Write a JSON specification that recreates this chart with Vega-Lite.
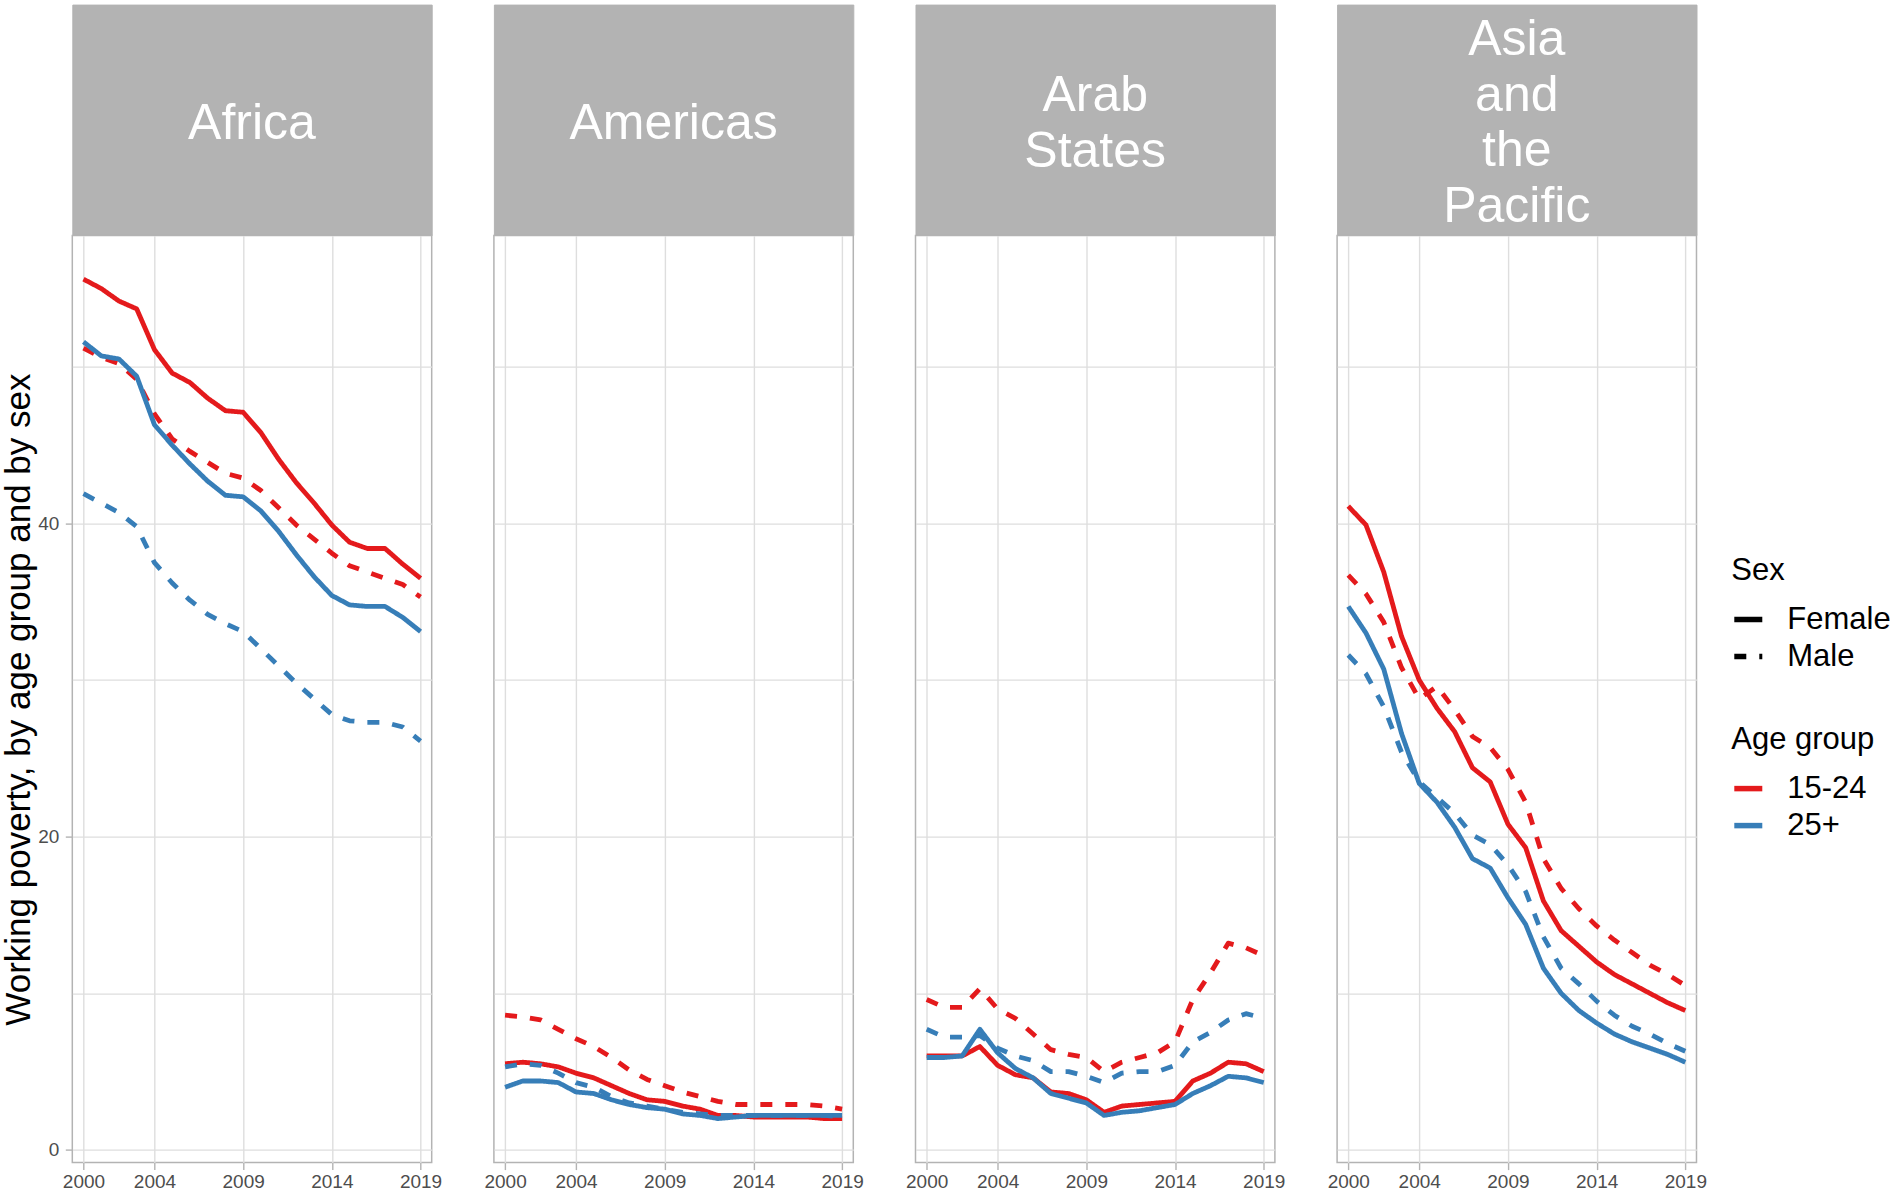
{
  "$schema": "https://vega.github.io/schema/vega-lite/v6.json",
  "background": "white",
  "padding": {"left": 0.3, "top": 3.6, "right": 0, "bottom": 0},
  "datasets": {
    "poverty": [
      {"region":"Africa","age":"15-24","sex":"Female","year":2000,"value":55.6},{"region":"Africa","age":"15-24","sex":"Female","year":2001,"value":55.0},{"region":"Africa","age":"15-24","sex":"Female","year":2002,"value":54.2},{"region":"Africa","age":"15-24","sex":"Female","year":2003,"value":53.7},{"region":"Africa","age":"15-24","sex":"Female","year":2004,"value":51.1},{"region":"Africa","age":"15-24","sex":"Female","year":2005,"value":49.6},{"region":"Africa","age":"15-24","sex":"Female","year":2006,"value":49.0},{"region":"Africa","age":"15-24","sex":"Female","year":2007,"value":48.0},{"region":"Africa","age":"15-24","sex":"Female","year":2008,"value":47.2},{"region":"Africa","age":"15-24","sex":"Female","year":2009,"value":47.1},{"region":"Africa","age":"15-24","sex":"Female","year":2010,"value":45.8},{"region":"Africa","age":"15-24","sex":"Female","year":2011,"value":44.1},{"region":"Africa","age":"15-24","sex":"Female","year":2012,"value":42.6},{"region":"Africa","age":"15-24","sex":"Female","year":2013,"value":41.3},{"region":"Africa","age":"15-24","sex":"Female","year":2014,"value":39.9},{"region":"Africa","age":"15-24","sex":"Female","year":2015,"value":38.8},{"region":"Africa","age":"15-24","sex":"Female","year":2016,"value":38.4},{"region":"Africa","age":"15-24","sex":"Female","year":2017,"value":38.4},{"region":"Africa","age":"15-24","sex":"Female","year":2018,"value":37.4},{"region":"Africa","age":"15-24","sex":"Female","year":2019,"value":36.5},
      {"region":"Africa","age":"15-24","sex":"Male","year":2000,"value":51.2},{"region":"Africa","age":"15-24","sex":"Male","year":2001,"value":50.6},{"region":"Africa","age":"15-24","sex":"Male","year":2002,"value":50.2},{"region":"Africa","age":"15-24","sex":"Male","year":2003,"value":49.2},{"region":"Africa","age":"15-24","sex":"Male","year":2004,"value":47.0},{"region":"Africa","age":"15-24","sex":"Male","year":2005,"value":45.4},{"region":"Africa","age":"15-24","sex":"Male","year":2006,"value":44.6},{"region":"Africa","age":"15-24","sex":"Male","year":2007,"value":43.9},{"region":"Africa","age":"15-24","sex":"Male","year":2008,"value":43.2},{"region":"Africa","age":"15-24","sex":"Male","year":2009,"value":42.9},{"region":"Africa","age":"15-24","sex":"Male","year":2010,"value":42.1},{"region":"Africa","age":"15-24","sex":"Male","year":2011,"value":41.0},{"region":"Africa","age":"15-24","sex":"Male","year":2012,"value":39.9},{"region":"Africa","age":"15-24","sex":"Male","year":2013,"value":39.0},{"region":"Africa","age":"15-24","sex":"Male","year":2014,"value":38.1},{"region":"Africa","age":"15-24","sex":"Male","year":2015,"value":37.3},{"region":"Africa","age":"15-24","sex":"Male","year":2016,"value":36.9},{"region":"Africa","age":"15-24","sex":"Male","year":2017,"value":36.5},{"region":"Africa","age":"15-24","sex":"Male","year":2018,"value":36.1},{"region":"Africa","age":"15-24","sex":"Male","year":2019,"value":35.3},
      {"region":"Africa","age":"25+","sex":"Female","year":2000,"value":51.6},{"region":"Africa","age":"25+","sex":"Female","year":2001,"value":50.7},{"region":"Africa","age":"25+","sex":"Female","year":2002,"value":50.5},{"region":"Africa","age":"25+","sex":"Female","year":2003,"value":49.4},{"region":"Africa","age":"25+","sex":"Female","year":2004,"value":46.3},{"region":"Africa","age":"25+","sex":"Female","year":2005,"value":45.0},{"region":"Africa","age":"25+","sex":"Female","year":2006,"value":43.8},{"region":"Africa","age":"25+","sex":"Female","year":2007,"value":42.7},{"region":"Africa","age":"25+","sex":"Female","year":2008,"value":41.8},{"region":"Africa","age":"25+","sex":"Female","year":2009,"value":41.7},{"region":"Africa","age":"25+","sex":"Female","year":2010,"value":40.8},{"region":"Africa","age":"25+","sex":"Female","year":2011,"value":39.5},{"region":"Africa","age":"25+","sex":"Female","year":2012,"value":38.0},{"region":"Africa","age":"25+","sex":"Female","year":2013,"value":36.6},{"region":"Africa","age":"25+","sex":"Female","year":2014,"value":35.4},{"region":"Africa","age":"25+","sex":"Female","year":2015,"value":34.8},{"region":"Africa","age":"25+","sex":"Female","year":2016,"value":34.7},{"region":"Africa","age":"25+","sex":"Female","year":2017,"value":34.7},{"region":"Africa","age":"25+","sex":"Female","year":2018,"value":34.0},{"region":"Africa","age":"25+","sex":"Female","year":2019,"value":33.1},
      {"region":"Africa","age":"25+","sex":"Male","year":2000,"value":41.9},{"region":"Africa","age":"25+","sex":"Male","year":2001,"value":41.3},{"region":"Africa","age":"25+","sex":"Male","year":2002,"value":40.7},{"region":"Africa","age":"25+","sex":"Male","year":2003,"value":39.8},{"region":"Africa","age":"25+","sex":"Male","year":2004,"value":37.5},{"region":"Africa","age":"25+","sex":"Male","year":2005,"value":36.2},{"region":"Africa","age":"25+","sex":"Male","year":2006,"value":35.1},{"region":"Africa","age":"25+","sex":"Male","year":2007,"value":34.2},{"region":"Africa","age":"25+","sex":"Male","year":2008,"value":33.6},{"region":"Africa","age":"25+","sex":"Male","year":2009,"value":33.1},{"region":"Africa","age":"25+","sex":"Male","year":2010,"value":32.0},{"region":"Africa","age":"25+","sex":"Male","year":2011,"value":30.9},{"region":"Africa","age":"25+","sex":"Male","year":2012,"value":29.8},{"region":"Africa","age":"25+","sex":"Male","year":2013,"value":28.8},{"region":"Africa","age":"25+","sex":"Male","year":2014,"value":27.8},{"region":"Africa","age":"25+","sex":"Male","year":2015,"value":27.4},{"region":"Africa","age":"25+","sex":"Male","year":2016,"value":27.3},{"region":"Africa","age":"25+","sex":"Male","year":2017,"value":27.3},{"region":"Africa","age":"25+","sex":"Male","year":2018,"value":27.0},{"region":"Africa","age":"25+","sex":"Male","year":2019,"value":26.1},
      {"region":"Americas","age":"15-24","sex":"Female","year":2000,"value":5.5},{"region":"Americas","age":"15-24","sex":"Female","year":2001,"value":5.6},{"region":"Americas","age":"15-24","sex":"Female","year":2002,"value":5.5},{"region":"Americas","age":"15-24","sex":"Female","year":2003,"value":5.3},{"region":"Americas","age":"15-24","sex":"Female","year":2004,"value":4.9},{"region":"Americas","age":"15-24","sex":"Female","year":2005,"value":4.6},{"region":"Americas","age":"15-24","sex":"Female","year":2006,"value":4.1},{"region":"Americas","age":"15-24","sex":"Female","year":2007,"value":3.6},{"region":"Americas","age":"15-24","sex":"Female","year":2008,"value":3.2},{"region":"Americas","age":"15-24","sex":"Female","year":2009,"value":3.1},{"region":"Americas","age":"15-24","sex":"Female","year":2010,"value":2.8},{"region":"Americas","age":"15-24","sex":"Female","year":2011,"value":2.6},{"region":"Americas","age":"15-24","sex":"Female","year":2012,"value":2.2},{"region":"Americas","age":"15-24","sex":"Female","year":2013,"value":2.2},{"region":"Americas","age":"15-24","sex":"Female","year":2014,"value":2.1},{"region":"Americas","age":"15-24","sex":"Female","year":2015,"value":2.1},{"region":"Americas","age":"15-24","sex":"Female","year":2016,"value":2.1},{"region":"Americas","age":"15-24","sex":"Female","year":2017,"value":2.1},{"region":"Americas","age":"15-24","sex":"Female","year":2018,"value":2.0},{"region":"Americas","age":"15-24","sex":"Female","year":2019,"value":2.0},
      {"region":"Americas","age":"15-24","sex":"Male","year":2000,"value":8.6},{"region":"Americas","age":"15-24","sex":"Male","year":2001,"value":8.5},{"region":"Americas","age":"15-24","sex":"Male","year":2002,"value":8.3},{"region":"Americas","age":"15-24","sex":"Male","year":2003,"value":7.7},{"region":"Americas","age":"15-24","sex":"Male","year":2004,"value":7.1},{"region":"Americas","age":"15-24","sex":"Male","year":2005,"value":6.6},{"region":"Americas","age":"15-24","sex":"Male","year":2006,"value":5.9},{"region":"Americas","age":"15-24","sex":"Male","year":2007,"value":5.1},{"region":"Americas","age":"15-24","sex":"Male","year":2008,"value":4.5},{"region":"Americas","age":"15-24","sex":"Male","year":2009,"value":4.1},{"region":"Americas","age":"15-24","sex":"Male","year":2010,"value":3.7},{"region":"Americas","age":"15-24","sex":"Male","year":2011,"value":3.4},{"region":"Americas","age":"15-24","sex":"Male","year":2012,"value":3.1},{"region":"Americas","age":"15-24","sex":"Male","year":2013,"value":2.9},{"region":"Americas","age":"15-24","sex":"Male","year":2014,"value":2.9},{"region":"Americas","age":"15-24","sex":"Male","year":2015,"value":2.9},{"region":"Americas","age":"15-24","sex":"Male","year":2016,"value":2.9},{"region":"Americas","age":"15-24","sex":"Male","year":2017,"value":2.9},{"region":"Americas","age":"15-24","sex":"Male","year":2018,"value":2.8},{"region":"Americas","age":"15-24","sex":"Male","year":2019,"value":2.6},
      {"region":"Americas","age":"25+","sex":"Female","year":2000,"value":4.0},{"region":"Americas","age":"25+","sex":"Female","year":2001,"value":4.4},{"region":"Americas","age":"25+","sex":"Female","year":2002,"value":4.4},{"region":"Americas","age":"25+","sex":"Female","year":2003,"value":4.3},{"region":"Americas","age":"25+","sex":"Female","year":2004,"value":3.7},{"region":"Americas","age":"25+","sex":"Female","year":2005,"value":3.6},{"region":"Americas","age":"25+","sex":"Female","year":2006,"value":3.2},{"region":"Americas","age":"25+","sex":"Female","year":2007,"value":2.9},{"region":"Americas","age":"25+","sex":"Female","year":2008,"value":2.7},{"region":"Americas","age":"25+","sex":"Female","year":2009,"value":2.6},{"region":"Americas","age":"25+","sex":"Female","year":2010,"value":2.3},{"region":"Americas","age":"25+","sex":"Female","year":2011,"value":2.2},{"region":"Americas","age":"25+","sex":"Female","year":2012,"value":2.0},{"region":"Americas","age":"25+","sex":"Female","year":2013,"value":2.1},{"region":"Americas","age":"25+","sex":"Female","year":2014,"value":2.2},{"region":"Americas","age":"25+","sex":"Female","year":2015,"value":2.2},{"region":"Americas","age":"25+","sex":"Female","year":2016,"value":2.2},{"region":"Americas","age":"25+","sex":"Female","year":2017,"value":2.2},{"region":"Americas","age":"25+","sex":"Female","year":2018,"value":2.2},{"region":"Americas","age":"25+","sex":"Female","year":2019,"value":2.2},
      {"region":"Americas","age":"25+","sex":"Male","year":2000,"value":5.3},{"region":"Americas","age":"25+","sex":"Male","year":2001,"value":5.5},{"region":"Americas","age":"25+","sex":"Male","year":2002,"value":5.4},{"region":"Americas","age":"25+","sex":"Male","year":2003,"value":4.9},{"region":"Americas","age":"25+","sex":"Male","year":2004,"value":4.3},{"region":"Americas","age":"25+","sex":"Male","year":2005,"value":4.0},{"region":"Americas","age":"25+","sex":"Male","year":2006,"value":3.4},{"region":"Americas","age":"25+","sex":"Male","year":2007,"value":3.0},{"region":"Americas","age":"25+","sex":"Male","year":2008,"value":2.8},{"region":"Americas","age":"25+","sex":"Male","year":2009,"value":2.6},{"region":"Americas","age":"25+","sex":"Male","year":2010,"value":2.4},{"region":"Americas","age":"25+","sex":"Male","year":2011,"value":2.3},{"region":"Americas","age":"25+","sex":"Male","year":2012,"value":2.2},{"region":"Americas","age":"25+","sex":"Male","year":2013,"value":2.2},{"region":"Americas","age":"25+","sex":"Male","year":2014,"value":2.2},{"region":"Americas","age":"25+","sex":"Male","year":2015,"value":2.2},{"region":"Americas","age":"25+","sex":"Male","year":2016,"value":2.2},{"region":"Americas","age":"25+","sex":"Male","year":2017,"value":2.2},{"region":"Americas","age":"25+","sex":"Male","year":2018,"value":2.2},{"region":"Americas","age":"25+","sex":"Male","year":2019,"value":2.1},
      {"region":"Arab States","age":"15-24","sex":"Female","year":2000,"value":6.0},{"region":"Arab States","age":"15-24","sex":"Female","year":2001,"value":6.0},{"region":"Arab States","age":"15-24","sex":"Female","year":2002,"value":6.0},{"region":"Arab States","age":"15-24","sex":"Female","year":2003,"value":6.6},{"region":"Arab States","age":"15-24","sex":"Female","year":2004,"value":5.4},{"region":"Arab States","age":"15-24","sex":"Female","year":2005,"value":4.8},{"region":"Arab States","age":"15-24","sex":"Female","year":2006,"value":4.6},{"region":"Arab States","age":"15-24","sex":"Female","year":2007,"value":3.7},{"region":"Arab States","age":"15-24","sex":"Female","year":2008,"value":3.6},{"region":"Arab States","age":"15-24","sex":"Female","year":2009,"value":3.2},{"region":"Arab States","age":"15-24","sex":"Female","year":2010,"value":2.4},{"region":"Arab States","age":"15-24","sex":"Female","year":2011,"value":2.8},{"region":"Arab States","age":"15-24","sex":"Female","year":2012,"value":2.9},{"region":"Arab States","age":"15-24","sex":"Female","year":2013,"value":3.0},{"region":"Arab States","age":"15-24","sex":"Female","year":2014,"value":3.1},{"region":"Arab States","age":"15-24","sex":"Female","year":2015,"value":4.4},{"region":"Arab States","age":"15-24","sex":"Female","year":2016,"value":4.9},{"region":"Arab States","age":"15-24","sex":"Female","year":2017,"value":5.6},{"region":"Arab States","age":"15-24","sex":"Female","year":2018,"value":5.5},{"region":"Arab States","age":"15-24","sex":"Female","year":2019,"value":5.0},
      {"region":"Arab States","age":"15-24","sex":"Male","year":2000,"value":9.6},{"region":"Arab States","age":"15-24","sex":"Male","year":2001,"value":9.1},{"region":"Arab States","age":"15-24","sex":"Male","year":2002,"value":9.1},{"region":"Arab States","age":"15-24","sex":"Male","year":2003,"value":10.3},{"region":"Arab States","age":"15-24","sex":"Male","year":2004,"value":9.0},{"region":"Arab States","age":"15-24","sex":"Male","year":2005,"value":8.4},{"region":"Arab States","age":"15-24","sex":"Male","year":2006,"value":7.4},{"region":"Arab States","age":"15-24","sex":"Male","year":2007,"value":6.4},{"region":"Arab States","age":"15-24","sex":"Male","year":2008,"value":6.1},{"region":"Arab States","age":"15-24","sex":"Male","year":2009,"value":5.9},{"region":"Arab States","age":"15-24","sex":"Male","year":2010,"value":5.0},{"region":"Arab States","age":"15-24","sex":"Male","year":2011,"value":5.6},{"region":"Arab States","age":"15-24","sex":"Male","year":2012,"value":5.9},{"region":"Arab States","age":"15-24","sex":"Male","year":2013,"value":6.2},{"region":"Arab States","age":"15-24","sex":"Male","year":2014,"value":6.9},{"region":"Arab States","age":"15-24","sex":"Male","year":2015,"value":9.6},{"region":"Arab States","age":"15-24","sex":"Male","year":2016,"value":11.3},{"region":"Arab States","age":"15-24","sex":"Male","year":2017,"value":13.2},{"region":"Arab States","age":"15-24","sex":"Male","year":2018,"value":12.9},{"region":"Arab States","age":"15-24","sex":"Male","year":2019,"value":12.4},
      {"region":"Arab States","age":"25+","sex":"Female","year":2000,"value":5.9},{"region":"Arab States","age":"25+","sex":"Female","year":2001,"value":5.9},{"region":"Arab States","age":"25+","sex":"Female","year":2002,"value":6.0},{"region":"Arab States","age":"25+","sex":"Female","year":2003,"value":7.7},{"region":"Arab States","age":"25+","sex":"Female","year":2004,"value":6.2},{"region":"Arab States","age":"25+","sex":"Female","year":2005,"value":5.2},{"region":"Arab States","age":"25+","sex":"Female","year":2006,"value":4.6},{"region":"Arab States","age":"25+","sex":"Female","year":2007,"value":3.6},{"region":"Arab States","age":"25+","sex":"Female","year":2008,"value":3.3},{"region":"Arab States","age":"25+","sex":"Female","year":2009,"value":3.0},{"region":"Arab States","age":"25+","sex":"Female","year":2010,"value":2.2},{"region":"Arab States","age":"25+","sex":"Female","year":2011,"value":2.4},{"region":"Arab States","age":"25+","sex":"Female","year":2012,"value":2.5},{"region":"Arab States","age":"25+","sex":"Female","year":2013,"value":2.7},{"region":"Arab States","age":"25+","sex":"Female","year":2014,"value":2.9},{"region":"Arab States","age":"25+","sex":"Female","year":2015,"value":3.6},{"region":"Arab States","age":"25+","sex":"Female","year":2016,"value":4.1},{"region":"Arab States","age":"25+","sex":"Female","year":2017,"value":4.7},{"region":"Arab States","age":"25+","sex":"Female","year":2018,"value":4.6},{"region":"Arab States","age":"25+","sex":"Female","year":2019,"value":4.3},
      {"region":"Arab States","age":"25+","sex":"Male","year":2000,"value":7.7},{"region":"Arab States","age":"25+","sex":"Male","year":2001,"value":7.2},{"region":"Arab States","age":"25+","sex":"Male","year":2002,"value":7.2},{"region":"Arab States","age":"25+","sex":"Male","year":2003,"value":7.3},{"region":"Arab States","age":"25+","sex":"Male","year":2004,"value":6.5},{"region":"Arab States","age":"25+","sex":"Male","year":2005,"value":6.0},{"region":"Arab States","age":"25+","sex":"Male","year":2006,"value":5.7},{"region":"Arab States","age":"25+","sex":"Male","year":2007,"value":5.0},{"region":"Arab States","age":"25+","sex":"Male","year":2008,"value":5.0},{"region":"Arab States","age":"25+","sex":"Male","year":2009,"value":4.7},{"region":"Arab States","age":"25+","sex":"Male","year":2010,"value":4.3},{"region":"Arab States","age":"25+","sex":"Male","year":2011,"value":4.9},{"region":"Arab States","age":"25+","sex":"Male","year":2012,"value":5.0},{"region":"Arab States","age":"25+","sex":"Male","year":2013,"value":5.0},{"region":"Arab States","age":"25+","sex":"Male","year":2014,"value":5.4},{"region":"Arab States","age":"25+","sex":"Male","year":2015,"value":6.9},{"region":"Arab States","age":"25+","sex":"Male","year":2016,"value":7.5},{"region":"Arab States","age":"25+","sex":"Male","year":2017,"value":8.3},{"region":"Arab States","age":"25+","sex":"Male","year":2018,"value":8.7},{"region":"Arab States","age":"25+","sex":"Male","year":2019,"value":8.4},
      {"region":"Asia and the Pacific","age":"15-24","sex":"Female","year":2000,"value":41.1},{"region":"Asia and the Pacific","age":"15-24","sex":"Female","year":2001,"value":39.9},{"region":"Asia and the Pacific","age":"15-24","sex":"Female","year":2002,"value":36.9},{"region":"Asia and the Pacific","age":"15-24","sex":"Female","year":2003,"value":32.8},{"region":"Asia and the Pacific","age":"15-24","sex":"Female","year":2004,"value":30.0},{"region":"Asia and the Pacific","age":"15-24","sex":"Female","year":2005,"value":28.2},{"region":"Asia and the Pacific","age":"15-24","sex":"Female","year":2006,"value":26.7},{"region":"Asia and the Pacific","age":"15-24","sex":"Female","year":2007,"value":24.4},{"region":"Asia and the Pacific","age":"15-24","sex":"Female","year":2008,"value":23.5},{"region":"Asia and the Pacific","age":"15-24","sex":"Female","year":2009,"value":20.8},{"region":"Asia and the Pacific","age":"15-24","sex":"Female","year":2010,"value":19.3},{"region":"Asia and the Pacific","age":"15-24","sex":"Female","year":2011,"value":15.9},{"region":"Asia and the Pacific","age":"15-24","sex":"Female","year":2012,"value":14.0},{"region":"Asia and the Pacific","age":"15-24","sex":"Female","year":2013,"value":13.0},{"region":"Asia and the Pacific","age":"15-24","sex":"Female","year":2014,"value":12.0},{"region":"Asia and the Pacific","age":"15-24","sex":"Female","year":2015,"value":11.2},{"region":"Asia and the Pacific","age":"15-24","sex":"Female","year":2016,"value":10.6},{"region":"Asia and the Pacific","age":"15-24","sex":"Female","year":2017,"value":10.0},{"region":"Asia and the Pacific","age":"15-24","sex":"Female","year":2018,"value":9.4},{"region":"Asia and the Pacific","age":"15-24","sex":"Female","year":2019,"value":8.9},
      {"region":"Asia and the Pacific","age":"15-24","sex":"Male","year":2000,"value":36.7},{"region":"Asia and the Pacific","age":"15-24","sex":"Male","year":2001,"value":35.5},{"region":"Asia and the Pacific","age":"15-24","sex":"Male","year":2002,"value":33.7},{"region":"Asia and the Pacific","age":"15-24","sex":"Male","year":2003,"value":30.8},{"region":"Asia and the Pacific","age":"15-24","sex":"Male","year":2004,"value":28.8},{"region":"Asia and the Pacific","age":"15-24","sex":"Male","year":2005,"value":29.6},{"region":"Asia and the Pacific","age":"15-24","sex":"Male","year":2006,"value":28.1},{"region":"Asia and the Pacific","age":"15-24","sex":"Male","year":2007,"value":26.4},{"region":"Asia and the Pacific","age":"15-24","sex":"Male","year":2008,"value":25.7},{"region":"Asia and the Pacific","age":"15-24","sex":"Male","year":2009,"value":24.3},{"region":"Asia and the Pacific","age":"15-24","sex":"Male","year":2010,"value":22.2},{"region":"Asia and the Pacific","age":"15-24","sex":"Male","year":2011,"value":18.6},{"region":"Asia and the Pacific","age":"15-24","sex":"Male","year":2012,"value":16.7},{"region":"Asia and the Pacific","age":"15-24","sex":"Male","year":2013,"value":15.4},{"region":"Asia and the Pacific","age":"15-24","sex":"Male","year":2014,"value":14.3},{"region":"Asia and the Pacific","age":"15-24","sex":"Male","year":2015,"value":13.4},{"region":"Asia and the Pacific","age":"15-24","sex":"Male","year":2016,"value":12.6},{"region":"Asia and the Pacific","age":"15-24","sex":"Male","year":2017,"value":11.8},{"region":"Asia and the Pacific","age":"15-24","sex":"Male","year":2018,"value":11.2},{"region":"Asia and the Pacific","age":"15-24","sex":"Male","year":2019,"value":10.5},
      {"region":"Asia and the Pacific","age":"25+","sex":"Female","year":2000,"value":34.7},{"region":"Asia and the Pacific","age":"25+","sex":"Female","year":2001,"value":33.0},{"region":"Asia and the Pacific","age":"25+","sex":"Female","year":2002,"value":30.7},{"region":"Asia and the Pacific","age":"25+","sex":"Female","year":2003,"value":26.6},{"region":"Asia and the Pacific","age":"25+","sex":"Female","year":2004,"value":23.4},{"region":"Asia and the Pacific","age":"25+","sex":"Female","year":2005,"value":22.2},{"region":"Asia and the Pacific","age":"25+","sex":"Female","year":2006,"value":20.6},{"region":"Asia and the Pacific","age":"25+","sex":"Female","year":2007,"value":18.6},{"region":"Asia and the Pacific","age":"25+","sex":"Female","year":2008,"value":18.0},{"region":"Asia and the Pacific","age":"25+","sex":"Female","year":2009,"value":16.1},{"region":"Asia and the Pacific","age":"25+","sex":"Female","year":2010,"value":14.4},{"region":"Asia and the Pacific","age":"25+","sex":"Female","year":2011,"value":11.6},{"region":"Asia and the Pacific","age":"25+","sex":"Female","year":2012,"value":10.0},{"region":"Asia and the Pacific","age":"25+","sex":"Female","year":2013,"value":8.9},{"region":"Asia and the Pacific","age":"25+","sex":"Female","year":2014,"value":8.1},{"region":"Asia and the Pacific","age":"25+","sex":"Female","year":2015,"value":7.4},{"region":"Asia and the Pacific","age":"25+","sex":"Female","year":2016,"value":6.9},{"region":"Asia and the Pacific","age":"25+","sex":"Female","year":2017,"value":6.5},{"region":"Asia and the Pacific","age":"25+","sex":"Female","year":2018,"value":6.1},{"region":"Asia and the Pacific","age":"25+","sex":"Female","year":2019,"value":5.6},
      {"region":"Asia and the Pacific","age":"25+","sex":"Male","year":2000,"value":31.6},{"region":"Asia and the Pacific","age":"25+","sex":"Male","year":2001,"value":30.4},{"region":"Asia and the Pacific","age":"25+","sex":"Male","year":2002,"value":28.3},{"region":"Asia and the Pacific","age":"25+","sex":"Male","year":2003,"value":25.4},{"region":"Asia and the Pacific","age":"25+","sex":"Male","year":2004,"value":23.5},{"region":"Asia and the Pacific","age":"25+","sex":"Male","year":2005,"value":22.5},{"region":"Asia and the Pacific","age":"25+","sex":"Male","year":2006,"value":21.5},{"region":"Asia and the Pacific","age":"25+","sex":"Male","year":2007,"value":20.1},{"region":"Asia and the Pacific","age":"25+","sex":"Male","year":2008,"value":19.5},{"region":"Asia and the Pacific","age":"25+","sex":"Male","year":2009,"value":18.2},{"region":"Asia and the Pacific","age":"25+","sex":"Male","year":2010,"value":16.5},{"region":"Asia and the Pacific","age":"25+","sex":"Male","year":2011,"value":13.6},{"region":"Asia and the Pacific","age":"25+","sex":"Male","year":2012,"value":11.6},{"region":"Asia and the Pacific","age":"25+","sex":"Male","year":2013,"value":10.6},{"region":"Asia and the Pacific","age":"25+","sex":"Male","year":2014,"value":9.5},{"region":"Asia and the Pacific","age":"25+","sex":"Male","year":2015,"value":8.6},{"region":"Asia and the Pacific","age":"25+","sex":"Male","year":2016,"value":7.9},{"region":"Asia and the Pacific","age":"25+","sex":"Male","year":2017,"value":7.4},{"region":"Asia and the Pacific","age":"25+","sex":"Male","year":2018,"value":6.8},{"region":"Asia and the Pacific","age":"25+","sex":"Male","year":2019,"value":6.3}
    ]
  },
  "columns": 4,
  "spacing": {"row": 0, "column": 61.6},
  "bounds": "flush",
  "concat": [
    {"width": 359.4, "height": 230.4, "view": {"fill": "#b3b3b3", "stroke": "#b3b3b3"},
     "data": {"values": [{"label": "Africa"}]},
     "mark": {"type": "text", "color": "white", "fontSize": 50, "lineBreak": "\n", "lineHeight": 55, "baseline": "middle", "align": "center", "dy": 4},
     "encoding": {"text": {"field": "label", "type": "nominal"}}},
    {"width": 359.4, "height": 230.4, "view": {"fill": "#b3b3b3", "stroke": "#b3b3b3"},
     "data": {"values": [{"label": "Americas"}]},
     "mark": {"type": "text", "color": "white", "fontSize": 50, "lineBreak": "\n", "lineHeight": 55, "baseline": "middle", "align": "center", "dy": 4},
     "encoding": {"text": {"field": "label", "type": "nominal"}}},
    {"width": 359.4, "height": 230.4, "view": {"fill": "#b3b3b3", "stroke": "#b3b3b3"},
     "data": {"values": [{"label": "Arab\nStates"}]},
     "mark": {"type": "text", "color": "white", "fontSize": 50, "lineBreak": "\n", "lineHeight": 55.5, "baseline": "middle", "align": "center", "dy": -23.5},
     "encoding": {"text": {"field": "label", "type": "nominal"}}},
    {"width": 359.4, "height": 230.4, "view": {"fill": "#b3b3b3", "stroke": "#b3b3b3"},
     "data": {"values": [{"label": "Asia\nand\nthe\nPacific"}]},
     "mark": {"type": "text", "color": "white", "fontSize": 50, "lineBreak": "\n", "lineHeight": 55.5, "baseline": "middle", "align": "center", "dy": -79.5},
     "encoding": {"text": {"field": "label", "type": "nominal"}}},
    {"width": 359.4, "height": 927,
     "data": {"name": "poverty"},
     "transform": [{"filter": "datum.region === 'Africa'"}],
     "mark": {"type": "line", "strokeWidth": 4.8, "strokeJoin": "round", "clip": true},
     "encoding": {
       "x": {"field": "year", "type": "quantitative", "scale": {"domain": [1999.37, 2019.63], "nice": false, "zero": false},
             "axis": {"values": [2000, 2004, 2009, 2014, 2019], "format": "d", "title": null, "labelFlush": false, "labelOverlap": false, "labelPadding": 3}},
       "y": {"field": "value", "type": "quantitative", "scale": {"domain": [-0.81, 58.38], "nice": false, "zero": false},
             "axis": {"values": [0, 10, 20, 30, 40, 50], "labelExpr": "datum.value % 20 === 0 ? datum.label : ''",
                      "tickOpacity": {"condition": {"test": "datum.value % 20 !== 0", "value": 0}, "value": 1},
                      "title": "Working poverty, by age group and by sex", "titleFontSize": 35, "titlePadding": 1, "labelPadding": 6.5}},
       "color": {"field": "age", "type": "nominal", "scale": {"domain": ["15-24", "25+"], "range": ["#E41A1C", "#377EB8"]},
                 "legend": {"title": "Age group", "orient": "none", "legendX": 1659, "legendY": 720}},
       "strokeDash": {"field": "sex", "type": "nominal", "scale": {"domain": ["Female", "Male"], "range": [[1, 0], [12, 13]]},
                      "legend": {"title": "Sex", "orient": "none", "legendX": 1659, "legendY": 551, "symbolStrokeColor": "black"}}
     }},
    {"width": 359.4, "height": 927,
     "data": {"name": "poverty"},
     "transform": [{"filter": "datum.region === 'Americas'"}],
     "mark": {"type": "line", "strokeWidth": 4.8, "strokeJoin": "round", "clip": true},
     "encoding": {
       "x": {"field": "year", "type": "quantitative", "scale": {"domain": [1999.37, 2019.63], "nice": false, "zero": false},
             "axis": {"values": [2000, 2004, 2009, 2014, 2019], "format": "d", "title": null, "labelFlush": false, "labelOverlap": false, "labelPadding": 3}},
       "y": {"field": "value", "type": "quantitative", "scale": {"domain": [-0.81, 58.38], "nice": false, "zero": false},
             "axis": {"values": [0, 10, 20, 30, 40, 50], "labels": false, "ticks": false, "title": null}},
       "color": {"field": "age", "type": "nominal", "scale": {"domain": ["15-24", "25+"], "range": ["#E41A1C", "#377EB8"]},
                 "legend": {"title": "Age group", "orient": "none", "legendX": 1659, "legendY": 720}},
       "strokeDash": {"field": "sex", "type": "nominal", "scale": {"domain": ["Female", "Male"], "range": [[1, 0], [12, 13]]},
                      "legend": {"title": "Sex", "orient": "none", "legendX": 1659, "legendY": 551, "symbolStrokeColor": "black"}}
     }},
    {"width": 359.4, "height": 927,
     "data": {"name": "poverty"},
     "transform": [{"filter": "datum.region === 'Arab States'"}],
     "mark": {"type": "line", "strokeWidth": 4.8, "strokeJoin": "round", "clip": true},
     "encoding": {
       "x": {"field": "year", "type": "quantitative", "scale": {"domain": [1999.37, 2019.63], "nice": false, "zero": false},
             "axis": {"values": [2000, 2004, 2009, 2014, 2019], "format": "d", "title": null, "labelFlush": false, "labelOverlap": false, "labelPadding": 3}},
       "y": {"field": "value", "type": "quantitative", "scale": {"domain": [-0.81, 58.38], "nice": false, "zero": false},
             "axis": {"values": [0, 10, 20, 30, 40, 50], "labels": false, "ticks": false, "title": null}},
       "color": {"field": "age", "type": "nominal", "scale": {"domain": ["15-24", "25+"], "range": ["#E41A1C", "#377EB8"]},
                 "legend": {"title": "Age group", "orient": "none", "legendX": 1659, "legendY": 720}},
       "strokeDash": {"field": "sex", "type": "nominal", "scale": {"domain": ["Female", "Male"], "range": [[1, 0], [12, 13]]},
                      "legend": {"title": "Sex", "orient": "none", "legendX": 1659, "legendY": 551, "symbolStrokeColor": "black"}}
     }},
    {"width": 359.4, "height": 927,
     "data": {"name": "poverty"},
     "transform": [{"filter": "datum.region === 'Asia and the Pacific'"}],
     "mark": {"type": "line", "strokeWidth": 4.8, "strokeJoin": "round", "clip": true},
     "encoding": {
       "x": {"field": "year", "type": "quantitative", "scale": {"domain": [1999.37, 2019.63], "nice": false, "zero": false},
             "axis": {"values": [2000, 2004, 2009, 2014, 2019], "format": "d", "title": null, "labelFlush": false, "labelOverlap": false, "labelPadding": 3}},
       "y": {"field": "value", "type": "quantitative", "scale": {"domain": [-0.81, 58.38], "nice": false, "zero": false},
             "axis": {"values": [0, 10, 20, 30, 40, 50], "labels": false, "ticks": false, "title": null}},
       "color": {"field": "age", "type": "nominal", "scale": {"domain": ["15-24", "25+"], "range": ["#E41A1C", "#377EB8"]},
                 "legend": {"title": "Age group", "orient": "none", "legendX": 1659, "legendY": 720}},
       "strokeDash": {"field": "sex", "type": "nominal", "scale": {"domain": ["Female", "Male"], "range": [[1, 0], [12, 13]]},
                      "legend": {"title": "Sex", "orient": "none", "legendX": 1659, "legendY": 551, "symbolStrokeColor": "black"}}
     }}
  ],
  "config": {
    "font": "Liberation Sans",
    "view": {"stroke": "#b3b3b3", "strokeWidth": 1.5},
    "axis": {"domain": false, "grid": true, "gridColor": "#dedede", "gridWidth": 1.4, "tickColor": "#b3b3b3", "tickWidth": 1.4, "tickSize": 7,
             "labelColor": "#4d4d4d", "labelFontSize": 19, "titleFontWeight": "normal", "titleColor": "black"},
    "legend": {"titleFontSize": 31, "labelFontSize": 31, "titleFontWeight": "normal", "titleColor": "black", "labelColor": "black",
               "symbolType": "stroke", "symbolSize": 784, "symbolStrokeWidth": 5.5, "labelOffset": 22, "rowPadding": 5,
               "titlePadding": 16, "padding": 0}
  }
}
